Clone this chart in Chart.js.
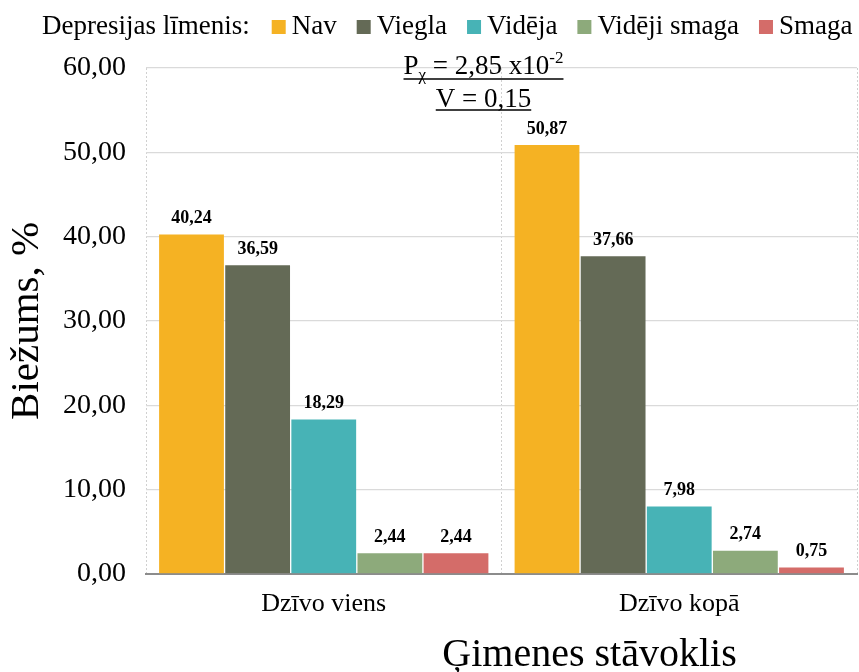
<!DOCTYPE html>
<html>
<head>
<meta charset="utf-8">
<script src="https://cdn.jsdelivr.net/npm/chart.js@4"></script>
<style>
  body { margin: 0; background: #fff; }
  #wrap { width: 859px; height: 672px; }
</style>
</head>
<body>
<div id="wrap"><canvas id="grafico"></canvas></div>
<script>
// dati
const kategorijas = ['Dzīvo viens', 'Dzīvo kopā'];
const limeni = ['Nav', 'Viegla', 'Vidēja', 'Vidēji smaga', 'Smaga'];
const nav = [40.24, 50.87];
const viegla = [36.59, 37.66];
const videja = [18.29, 7.98];
const vidSmaga = [2.44, 2.74];
const smaga = [2.44, 0.75];
const yTicks = [0, 10, 20, 30, 40, 50, 60];

const krasas = ['#F5B223', '#646A56', '#47B3B6', '#8DAA7B', '#D46C69'];
const SERIF = "'Liberation Serif', 'Times New Roman', serif";

function fmt(v) {
    return v.toFixed(2).replace('.', ',');
}

// leģenda rindā ar virsrakstu
const legendaPlugin = {
    id: 'legendaRinda',
    afterDraw(chart) {
        const c = chart.ctx;
        c.save();
        c.font = '27px ' + SERIF;
        c.fillStyle = '#000';
        c.textBaseline = 'middle';
        let x = 42;
        const y = 27;
        c.fillText('Depresijas līmenis:', x, y);
        x += c.measureText('Depresijas līmenis:').width + 22;
        chart.data.datasets.forEach(ds => {
            c.fillStyle = ds.backgroundColor;
            c.fillRect(x, y - 7, 14, 14);
            x += 20;
            c.fillStyle = '#000';
            c.fillText(ds.label, x, y);
            x += c.measureText(ds.label).width + 20;
        });
        c.restore();
    }
};

// vērtības virs stabiņiem
const vertibasPlugin = {
    id: 'vertibas',
    afterDatasetsDraw(chart) {
        const c = chart.ctx;
        c.save();
        c.font = 'bold 18px ' + SERIF;
        c.fillStyle = '#000';
        c.textAlign = 'center';
        c.textBaseline = 'bottom';
        chart.data.datasets.forEach((ds, i) => {
            chart.getDatasetMeta(i).data.forEach((bar, j) => {
                c.fillText(fmt(ds.data[j]), bar.x, bar.y - 7);
            });
        });
        c.restore();
    }
};

// statistika augšā un x ass nosaukums
const tekstiPlugin = {
    id: 'teksti',
    afterDraw(chart) {
        const c = chart.ctx;
        const a = chart.chartArea;
        const cx = (a.left + a.right) / 2 - 18;
        c.save();
        c.fillStyle = '#000';
        c.strokeStyle = '#000';
        c.lineWidth = 1.5;
        c.textBaseline = 'alphabetic';

        const big = '27px ' + SERIF;
        const small = '17px ' + SERIF;
        const parts = [
            { t: 'P', f: big, dy: 0 },
            { t: 'χ', f: small, dy: 6 },
            { t: ' = 2,85 x10', f: big, dy: 0 },
            { t: '-2', f: small, dy: -11 }
        ];
        let w = 0;
        parts.forEach(p => { c.font = p.f; p.w = c.measureText(p.t).width; w += p.w; });
        let x = cx - w / 2;
        const y1 = 74;
        parts.forEach(p => {
            c.font = p.f;
            c.fillText(p.t, x, y1 + p.dy);
            x += p.w;
        });
        c.beginPath();
        c.moveTo(cx - w / 2, y1 + 5);
        c.lineTo(cx + w / 2, y1 + 5);
        c.stroke();

        c.font = big;
        const t2 = 'V = 0,15';
        const w2 = c.measureText(t2).width;
        const y2 = 107;
        c.fillText(t2, cx - w2 / 2, y2);
        c.beginPath();
        c.moveTo(cx - w2 / 2, y2 + 3);
        c.lineTo(cx + w2 / 2, y2 + 3);
        c.stroke();

        // x ass nosaukums (nobīdīts pa labi kā oriģinālā)
        c.font = '40px ' + SERIF;
        c.textAlign = 'center';
        c.fillText('Ģimenes stāvoklis', (a.left + a.right) / 2 + 88, 666);
        c.restore();
    }
};

const vertibas = [nav, viegla, videja, vidSmaga, smaga];

new Chart(document.getElementById('grafico'), {
    type: 'bar',
    data: {
        labels: kategorijas,
        datasets: limeni.map((l, i) => ({
            label: l,
            data: vertibas[i],
            backgroundColor: krasas[i],
            categoryPercentage: 0.93,
            barPercentage: 0.98
        }))
    },
    options: {
        responsive: true,
        maintainAspectRatio: false,
        animation: false,
        layout: { padding: { top: 68, left: 3, right: 2, bottom: 37 } },
        plugins: {
            legend: { display: false },
            tooltip: { enabled: false }
        },
        scales: {
            x: {
                grid: {
                    display: true,
                    drawTicks: false,
                    color: '#d0d0d0'
                },
                border: { display: true, color: '#8c8c8c', width: 2, dash: [2, 2] },
                ticks: {
                    color: '#000',
                    padding: 15,
                    font: { family: SERIF, size: 26 }
                }
            },
            y: {
                min: 0,
                max: 60,
                afterBuildTicks(scale) {
                    scale.ticks = yTicks.map(v => ({ value: v }));
                },
                afterFit(scale) {
                    scale.width = 143;
                },
                grid: {
                    color: '#dadada',
                    lineWidth: 1.2,
                    drawTicks: false
                },
                border: { display: false },
                ticks: {
                    color: '#000',
                    padding: 20,
                    font: { family: SERIF, size: 28 },
                    callback: v => fmt(v)
                },
                title: {
                    display: true,
                    text: 'Biežums, %',
                    color: '#000',
                    padding: { top: 0, bottom: 0 },
                    font: { family: SERIF, size: 41 }
                }
            }
        }
    },
    plugins: [legendaPlugin, vertibasPlugin, tekstiPlugin]
});
</script>
</body>
</html>
